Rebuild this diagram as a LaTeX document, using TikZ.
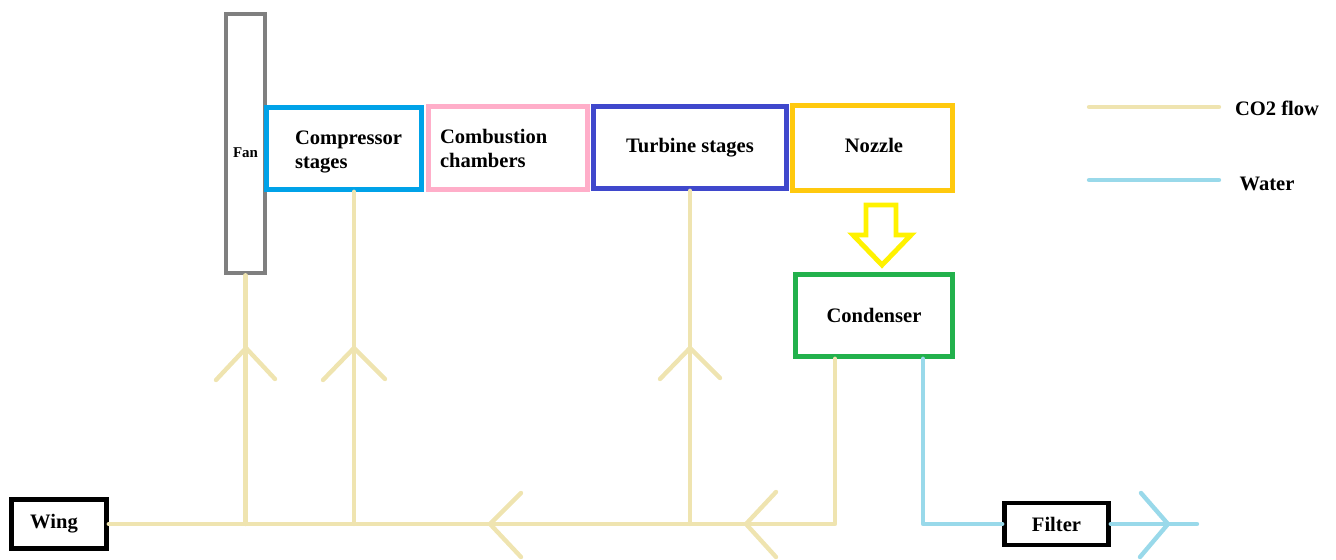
\documentclass[tikz,border=0pt]{standalone}
\usepackage{fontspec}
\setmainfont{Liberation Serif}
\definecolor{co2col}{RGB}{239,228,176}
\definecolor{watercol}{RGB}{153,217,234}
\definecolor{fangray}{RGB}{127,127,127}
\definecolor{compblue}{RGB}{0,162,232}
\definecolor{combpink}{RGB}{255,174,201}
\definecolor{turbblue}{RGB}{63,72,204}
\definecolor{nozzorange}{RGB}{255,201,14}
\definecolor{condgreen}{RGB}{34,177,76}
\definecolor{arrowyellow}{RGB}{255,242,0}

\begin{document}
\begin{tikzpicture}[x=0.02cm, y=-0.02cm,
    lbl/.style={font=\bfseries\fontsize{11.7}{13.7}\selectfont},
    box/.style={lbl, draw, rectangle, line width=2.6pt, inner sep=0pt},
    co2/.style={draw=co2col, line width=2.5pt, line cap=round, line join=round},
    water/.style={draw=watercol, line width=2.5pt, line cap=round, line join=round}]
    \useasboundingbox (0,0) rectangle (1336,559);

    % engine boxes
    \node[box, draw=fangray, minimum width=0.78cm, minimum height=5.18cm,
        label={[font=\bfseries\fontsize{8.5}{10}\selectfont, inner sep=0pt, yshift=-0.19cm]center:Fan}] (fan) at (245.5,143.5) {};
    \node[box, draw=compblue, minimum width=3.1cm, minimum height=1.64cm,
        label={[lbl, inner sep=0pt, text width=1.96cm, align=left, yshift=-0.07cm]center:Compressor\\stages}] (comp) at (344,148.5) {};
    \node[box, draw=combpink, minimum width=3.18cm, minimum height=1.66cm,
        text width=2.72cm, align=left] (comb) at (508,148) {Combustion\\chambers};
    \node[box, draw=turbblue, minimum width=3.86cm, minimum height=1.64cm] (turb) at (690,147.5) {Turbine stages};
    \node[box, draw=nozzorange, minimum width=3.2cm, minimum height=1.7cm,
        label={[lbl, inner sep=0pt, xshift=0.03cm, yshift=0.05cm]center:Nozzle}] (nozz) at (872.5,148) {};
    \node[box, draw=condgreen, minimum width=3.14cm, minimum height=1.64cm] (cond) at (874,315.5) {Condenser};
    \node[box, minimum width=1.9cm, minimum height=0.98cm,
        label={[lbl, inner sep=0pt, xshift=-0.1cm]center:Wing}] (wing) at (59,524) {};
    \node[box, minimum width=2.08cm, minimum height=0.84cm] (filter) at (1056.5,524) {Filter};

    % nozzle to condenser
    \draw[arrowyellow, line width=2.8pt, line join=miter]
        (866,205) -- (866,235) -- (853,235) -- (882,265) -- (911,235) -- (896,235) -- (896,205) -- cycle;

    % CO2 flow
    \coordinate (cj) at (835,524);
    \coordinate (cb) at (354,524);
    \draw[co2] (wing.east) -- (cj) -- (cj |- cond.south);
    \draw[co2] (fan.south) -- (fan.south |- cj);
    \draw[co2] (cb) -- (cb |- comp.south);
    \draw[co2] (turb.south) -- (turb.south |- cj);
    \draw[co2] (246,348) ++(-30,32) -- ++(30,-32) -- ++(29,31);
    \draw[co2] (354,348) ++(-31,32) -- ++(31,-32) -- ++(31,31);
    \draw[co2] (690,348) ++(-30,31) -- ++(30,-31) -- ++(30,30);
    \draw[co2] (490,524) ++(31,-31) -- ++(-31,31) -- ++(31,33);
    \draw[co2] (746,524) ++(30,-32) -- ++(-30,32) -- ++(30,33);

    % water
    \coordinate (wj) at (923,524);
    \coordinate (wend) at (1197,524);
    \draw[water] (wj |- cond.south) -- (wj) -- (filter.west);
    \draw[water] (filter.east) -- (wend);
    \draw[water] (1168,524) ++(-27,-31) -- ++(27,31) -- ++(-28,33);

    % legend
    \coordinate (co2a) at (1089,107);
    \coordinate (co2b) at (1219,107);
    \coordinate (wata) at (1089,180);
    \coordinate (watb) at (1219,180);
    \draw[co2] (co2a) -- (co2b);
    \draw[water] (wata) -- (watb);
    \node[lbl] (co2txt) at (1277,108) {CO2 flow};
    \node[lbl] (wattxt) at (1267,184) {Water};
\end{tikzpicture}
\end{document}
